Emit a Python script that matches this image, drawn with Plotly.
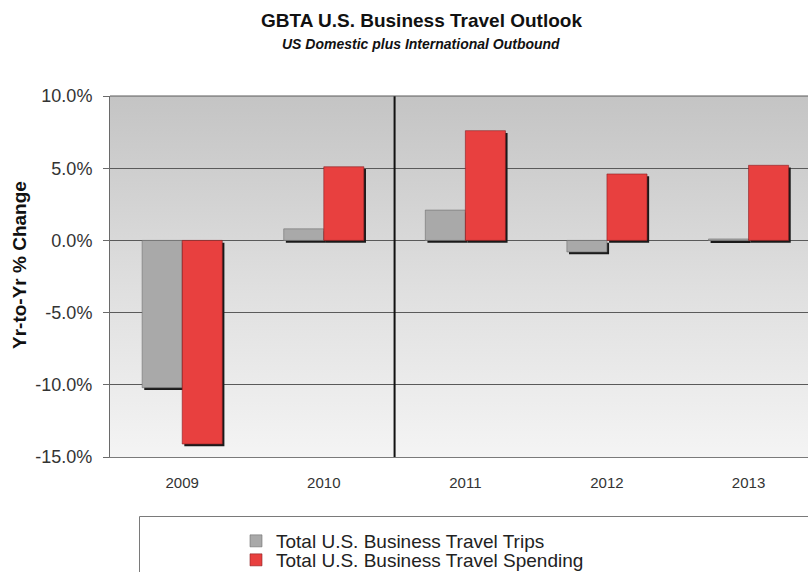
import base64
import plotly.graph_objects as go

# ---- data ----
years = ["2009", "2010", "2011", "2012", "2013"]
trips = [-10.2, 0.8, 2.1, -0.8, 0.1]
spending = [-14.1, 5.1, 7.6, 4.6, 5.2]
y_tick_vals = [10, 5, 0, -5, -10, -15]
y_tick_text = ["10.0%", "5.0%", "0.0%", "-5.0%", "-10.0%", "-15.0%"]
series_names = ["Total U.S. Business Travel Trips", "Total U.S. Business Travel Spending"]

FONT = "Arial, 'Liberation Sans', sans-serif"
GRAY = "#a9a9a9"
RED = "#e8403f"
SHADOW = "#1a1a1a"

W = 808
H = 572
ML, MR, MT, MB = 110, 0, 96, 115
PW = W - ML - MR
PH = H - MT - MB

bw = 0.283          # bar width in category units
sdx = 0.015         # shadow offset (category units)
sdy = 0.16          # shadow offset (% units)

fig = go.Figure()

# drop shadows (drawn first, underneath)
for vals, off in ((trips, -bw), (spending, 0.0)):
    fig.add_trace(go.Bar(
        x=years, y=vals, base=-sdy, width=bw, offset=off + sdx,
        marker=dict(color=SHADOW, line=dict(width=0)),
        showlegend=False, hoverinfo="skip",
    ))

fig.add_trace(go.Bar(
    x=years, y=trips, width=bw, offset=-bw, name=series_names[0],
    marker=dict(color=GRAY, line=dict(color="#707070", width=0.6)),
    legend="legend",
))
fig.add_trace(go.Bar(
    x=years, y=spending, width=bw, offset=0.0, name=series_names[1],
    marker=dict(color=RED, line=dict(color="#8a1f22", width=0.6)),
    legend="legend2",
))

svg = ('<svg xmlns="http://www.w3.org/2000/svg" width="100" height="100" preserveAspectRatio="none">'
       '<defs><linearGradient id="g" x1="0" y1="0" x2="0" y2="1">'
       '<stop offset="0" stop-color="#c4c4c4"/>'
       '<stop offset="0.55" stop-color="#e0e0e0"/>'
       '<stop offset="1" stop-color="#f4f4f4"/>'
       '</linearGradient></defs>'
       '<rect width="100" height="100" fill="url(#g)"/></svg>')
bg_src = "data:image/svg+xml;base64," + base64.b64encode(svg.encode()).decode()


def py(px):
    return (H - MB - px) / PH


def px_x(px):
    return (px - ML) / PW


legend_common = dict(
    xref="container", yref="container", xanchor="left", yanchor="middle",
    bgcolor="rgba(0,0,0,0)", borderwidth=0,
    font=dict(size=19, color="#222222", family=FONT),
)

fig.update_layout(
    width=W, height=H,
    margin=dict(l=ML, r=MR, t=MT, b=MB, autoexpand=False),
    paper_bgcolor="white",
    plot_bgcolor="rgba(0,0,0,0)",
    barmode="overlay",
    font=dict(family=FONT, color="#333333"),
    images=[dict(source=bg_src, xref="paper", yref="paper", x=0, y=1,
                 sizex=1, sizey=1, sizing="stretch", layer="below",
                 xanchor="left", yanchor="top")],
    xaxis=dict(
        type="category", range=[-0.51, 4.42],
        showgrid=False, zeroline=False,
        showline=True, linecolor="#7a7a7a", linewidth=1,
        ticks="", tickfont=dict(size=15, color="#333333"),
        ticklabelstandoff=12,
    ),
    yaxis=dict(
        range=[-15, 10], tickvals=y_tick_vals, ticktext=y_tick_text,
        showgrid=True, gridcolor="#5a5a5a", gridwidth=1,
        zeroline=True, zerolinecolor="#5a5a5a", zerolinewidth=1,
        showline=True, linecolor="#6a6a6a", linewidth=1,
        ticks="outside", ticklen=6, tickcolor="#6a6a6a",
        tickfont=dict(size=18, color="#333333"),
        ticklabelstandoff=7,
    ),
    showlegend=True,
    legend=dict(x=236 / W, y=1 - 541 / H, **legend_common),
    legend2=dict(x=236 / W, y=1 - 560 / H, **legend_common),
    shapes=[
        dict(type="line", xref="x", yref="paper", x0=1.5, x1=1.5, y0=0, y1=1,
             line=dict(color="#111111", width=2)),
        dict(type="line", xref="paper", yref="paper", x0=0, x1=1, y0=1, y1=1,
             line=dict(color="#5a5a5a", width=1)),
        dict(type="rect", xref="paper", yref="paper",
             x0=px_x(139.5), x1=px_x(812), y0=py(516.5), y1=py(590),
             line=dict(color="#7a7a7a", width=1), fillcolor="rgba(0,0,0,0)"),
    ],
    annotations=[
        dict(text="<b>GBTA U.S. Business Travel Outlook</b>", xref="paper", yref="paper",
             x=px_x(421), y=py(20), xanchor="center", yanchor="middle", showarrow=False,
             font=dict(size=19, color="#111111", family=FONT)),
        dict(text="<b><i>US Domestic plus International Outbound</i></b>", xref="paper", yref="paper",
             x=px_x(421), y=py(44), xanchor="center", yanchor="middle", showarrow=False,
             font=dict(size=14, color="#111111", family=FONT)),
        dict(text="<b>Yr-to-Yr % Change</b>", xref="paper", yref="paper",
             x=px_x(19), y=py(265), xanchor="center", yanchor="middle", showarrow=False,
             textangle=-90, font=dict(size=19, color="#111111", family=FONT)),
    ],
)

fig.write_html("out.html")
